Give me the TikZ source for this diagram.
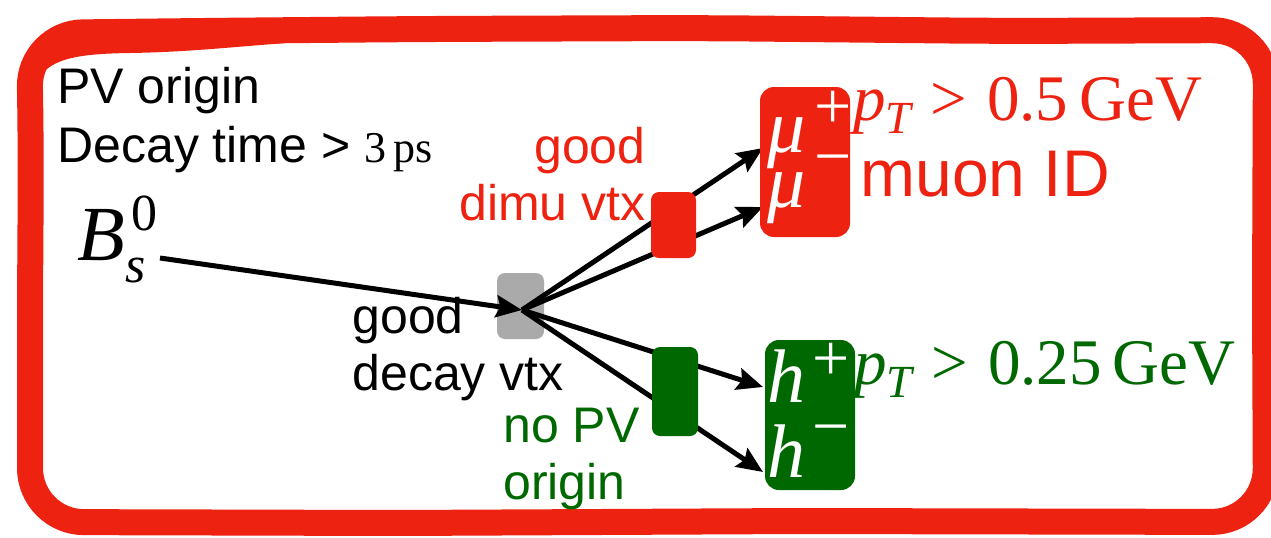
\documentclass[tikz,border=0pt]{standalone}
\usepackage{fontspec}
\setmainfont{Liberation Serif}
\newfontfamily\hv{Liberation Sans}
\usetikzlibrary{arrows.meta}
\definecolor{bred}{RGB}{238,34,17}
\definecolor{bgreen}{RGB}{0,104,0}
\definecolor{bgray}{RGB}{170,170,170}
\newcommand{\pTcut}[1]{{\itshape p}\raisebox{-6.5pt}{\fontsize{23}{23}\selectfont\itshape T}\hspace{0.3em}>\hspace{0.3em}#1\hspace{0.17em}GeV}
\begin{document}
\begin{tikzpicture}[x=0.5pt,y=-0.5pt,
  lbl/.style={anchor=base west, inner sep=0pt, font=\hv\fontsize{25}{25}\selectfont},
  lblr/.style={anchor=base east, inner sep=0pt, font=\hv\fontsize{25}{25}\selectfont},
  vbox/.style={draw=none, rounded corners=4pt, inner sep=0pt},
  pbox/.style={draw=none, rounded corners=7pt, inner sep=0pt, minimum width=45pt, minimum height=75pt},
  arr/.style={line width=2.5pt, -{Stealth[length=13pt,width=11pt,inset=2pt]}},
  part/.style={anchor=base west, inner sep=0pt, text=white, font=\fontsize{38}{38}\selectfont\itshape},
  charge/.style={anchor=center, inner sep=0pt, text=white, font=\fontsize{33}{33}\selectfont},
  cut/.style={anchor=base west, inner sep=0pt, font=\fontsize{32.5}{32.5}\selectfont},
  border/.style={draw=bred, line width=13pt, rounded corners=27pt, line join=round}]
\useasboundingbox (0,0) rectangle (1271,537);

% hand-drawn frame
\fill[bred] (30,110) .. controls (33,62) and (60,54) .. (130,53) .. controls (190,52) and (230,47) .. (300,42) -- (300,31) -- (84,31) .. controls (54,31) and (30,55) .. (30,85) -- cycle;
\draw[border] (30,300) -- (31,150) -- (29,33) -- (200,31) -- (420,29) -- (700,28) -- (1000,31) -- (1266,30) -- (1265,300) -- (1266,522) -- (800,521) -- (400,523) -- (30,522) -- cycle;

% decay vertex
\node[vbox, fill=bgray, minimum width=23.5pt, minimum height=33pt] (vtx) at (520.5,306) {};
\coordinate (v) at (522,310);
\coordinate (Bend) at (160,258);
\coordinate (mupt) at (763,148);
\coordinate (mumt) at (763,207);
\coordinate (hpt) at (763,387);
\coordinate (hmt) at (763,472);

\draw[arr] (Bend) -- (v);
\draw[arr] (v) -- (mupt);
\draw[arr] (v) -- (mumt);
\draw[arr] (v) -- (hpt);
\draw[arr] (v) -- (hmt);

% secondary vertex boxes
\node[vbox, fill=bred, minimum width=22.5pt, minimum height=33pt] (dimu) at (673.5,225) {};
\node[vbox, fill=bgreen, minimum width=23pt, minimum height=44.5pt] (hh) at (675,391.5) {};

% particle boxes
\node[pbox, fill=bred] (mubox) at (805,162) {};
\node[pbox, fill=bgreen] (hbox) at (810,415) {};

\node[part] (mup) at (767,152) {μ};
\node[part] (mum) at (767,207) {μ};
\node[part] (hp) at (767,402) {h};
\node[part] (hm) at (767,477) {h};
\node[charge] (mupc) at (833,110) {+};
\node[charge] (mumc) at (833,167) {−};
\node[charge] (hpc) at (831,362) {+};
\node[charge] (hmc) at (831,437) {−};

% B meson
\node[anchor=base west, inner sep=0pt] (B) at (77,260) {\fontsize{39}{39}\selectfont\itshape B\rlap{\hspace{3pt}\raisebox{15pt}{\upshape\fontsize{26}{26}\selectfont 0}}\raisebox{-11pt}{\fontsize{26}{26}\selectfont s}};

% labels
\node[lbl] (pv) at (57,103) {PV origin};
\node[lbl] (dt) at (57,162) {Decay time > {\rmfamily\fontsize{22}{22}\selectfont 3\,ps}};

\node[lblr, text=bred] (g1) at (646,163) {good};
\node[lblr, text=bred] (g2) at (646,220.5) {dimu vtx};

\node[lbl] (d1) at (352,333) {good};
\node[lbl] (d2) at (352,390.5) {decay vtx};

\node[lbl, text=bgreen] (n1) at (503,442) {no PV};
\node[lbl, text=bgreen] (n2) at (503,499.5) {origin};

\node[cut, text=bred] (cmu) at (853,120) {\pTcut{0.5}};
\node[lbl, font=\hv\fontsize{33}{33}\selectfont, text=bred] (mid) at (860,196) {muon ID};
\node[cut, text=bgreen] (ch) at (854,384) {\pTcut{0.25}};
\end{tikzpicture}
\end{document}
